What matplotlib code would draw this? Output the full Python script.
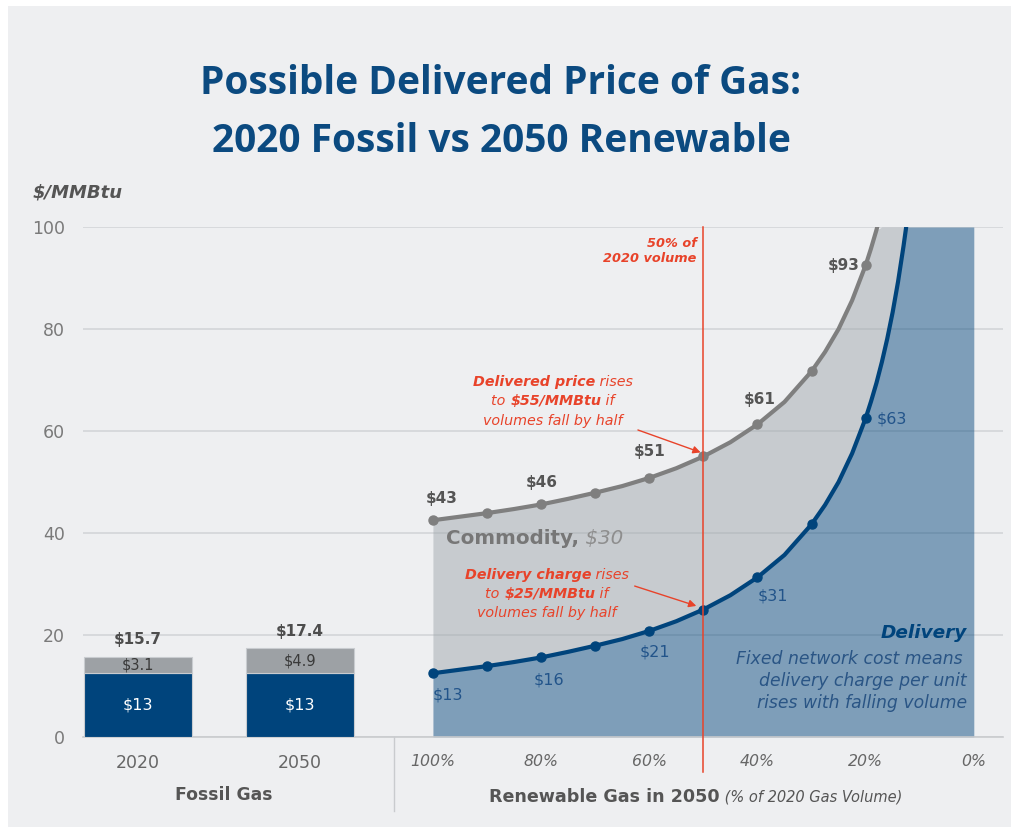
import numpy as np
import matplotlib
matplotlib.use('Agg')
import matplotlib.pyplot as plt
import matplotlib.transforms as mtransforms
from matplotlib.patches import Rectangle

# ---- data ----
bar_years = ['2020', '2050']
bar_delivery = [12.6, 12.5]
bar_commodity = [3.1, 4.9]
bar_delivery_lbl = ['$13', '$13']
bar_commodity_lbl = ['$3.1', '$4.9']
bar_total_lbl = ['$15.7', '$17.4']

vol_pts = [100, 90, 80, 70, 60, 50, 40, 30, 20]
delivery_pts = [12.5, 13.9, 15.6, 17.9, 20.8, 25.0, 31.3, 41.7, 62.5]
total_pts = [42.5, 43.9, 45.6, 47.9, 50.8, 55.0, 61.3, 71.7, 92.5]
total_lbl = ['$43', '', '$46', '', '$51', '', '$61', '', '$93']
delivery_lbl = ['$13', '', '$16', '', '$21', '', '$31', '', '$63']

# denser reading of the smooth curves
curve_vol = [100, 95, 90, 85, 80, 75, 70, 65, 60, 55, 50, 45, 40, 35, 30,
             27.5, 25, 22.5, 20, 19, 18, 17, 16, 15, 14, 13, 12.5]
curve_delivery = [12.5, 13.2, 13.9, 14.7, 15.6, 16.7, 17.9, 19.2, 20.8, 22.7, 25.0,
                  27.8, 31.3, 35.7, 41.7, 45.5, 50.0, 55.6, 62.5, 65.8, 69.4, 73.5,
                  78.1, 83.3, 89.3, 96.2, 100.0]
curve_total = [42.5, 43.2, 43.9, 44.7, 45.6, 46.7, 47.9, 49.2, 50.8, 52.7, 55.0,
               57.8, 61.3, 65.7, 71.7, 75.5, 80.0, 85.6, 92.5, 95.8, 99.4, 103.5,
               108.1, 113.3, 119.3, 126.2, 130.0]

vol_ticks = [100, 80, 60, 40, 20, 0]
y_ticks = [0, 20, 40, 60, 80, 100]

# ---- style ----
BG = '#eeeff1'
BLUE = '#00447c'
BLUE_FILL = '#0f4e82'
GRAY_LINE = '#7f7f7f'
GRAY_FILL = '#a1a8ae'
BAR_GRAY = '#9da1a5'
RED = '#e8432a'
TXT = '#555555'
BLUE_TXT = '#22548a'

YMAX = 100
BAR_X = [-54.5, -24.6]

def vx(v):
    return 100 - np.asarray(v, dtype=float)

fig = plt.figure(figsize=(10.15, 8.33), dpi=100)
fig.patch.set_facecolor('white')
fig.patches.append(Rectangle((8/1015, 6/833), 1003/1015, 821/833, transform=fig.transFigure,
                             facecolor=BG, edgecolor='none', zorder=-10))
ax = fig.add_axes([83/1015, 1 - 737/833, 920/1015, 510/833])
ax.set_facecolor(BG)
ax.patch.set_alpha(0)
ax.set_xlim(-64.7, 105.4); ax.set_ylim(0, YMAX)
for s in ['top', 'right', 'left']:
    ax.spines[s].set_visible(False)
ax.spines['bottom'].set_color('#c9cbce'); ax.spines['bottom'].set_linewidth(1.2)
ax.set_axisbelow(True)
ax.grid(axis='y', color='#d3d5d8', linewidth=1.2)
ax.set_yticks(y_ticks)
ax.tick_params(axis='y', length=0, pad=13, labelsize=12.5, labelcolor='#7a7a7a')
ax.set_xticks(list(BAR_X) + list(vx(vol_ticks)))
ax.set_xticklabels(bar_years + [f'{v}%' for v in vol_ticks])
ax.tick_params(axis='x', length=0, pad=12, labelcolor='#666666')
for i, t in enumerate(ax.get_xticklabels()):
    if i < 2:
        t.set_fontsize(12.5)
    else:
        t.set_fontsize(11.3); t.set_style('italic')

# ---- bars ----
ax.bar(BAR_X, bar_delivery, width=20, color=BLUE, edgecolor='#c9ccd0', linewidth=0.8, zorder=3)
ax.bar(BAR_X, bar_commodity, bottom=bar_delivery, width=20, color=BAR_GRAY, edgecolor='#c9ccd0', linewidth=0.8, zorder=3)
for x, d, c, dl, cl, tl in zip(BAR_X, bar_delivery, bar_commodity, bar_delivery_lbl, bar_commodity_lbl, bar_total_lbl):
    ax.text(x, d / 2, dl, ha='center', va='center', color='white', fontsize=11.5, zorder=5)
    ax.text(x, d + c / 2, cl, ha='center', va='center', color='#3a3a3a', fontsize=10.5, zorder=5)
    ax.annotate(tl, (x, d + c), xytext=(0, 17), textcoords='offset pixels', ha='center', va='center',
                color='#4d4d4d', fontsize=11, fontweight='bold', zorder=5)

# ---- renewable area ----
cx = vx(curve_vol)
d_clip = np.minimum(curve_delivery, YMAX)
t_clip = np.minimum(curve_total, YMAX)
fx = np.append(cx, vx(0))
ax.fill_between(fx, 0, np.append(d_clip, YMAX), color=BLUE_FILL, alpha=0.5, linewidth=0, zorder=2)
ax.fill_between(fx, np.append(d_clip, YMAX), np.append(t_clip, YMAX), color=GRAY_FILL, alpha=0.5, linewidth=0, zorder=2)

ax.plot(cx, curve_total, color=GRAY_LINE, lw=3, solid_capstyle='round', solid_joinstyle='round', zorder=4)
ax.plot(cx, curve_delivery, color=BLUE, lw=3, solid_capstyle='round', solid_joinstyle='round', zorder=4)
ax.plot(vx(vol_pts), total_pts, 'o', color=GRAY_LINE, ms=6.5, zorder=4)
ax.plot(vx(vol_pts), delivery_pts, 'o', color=BLUE, ms=6.5, zorder=4)

tot_off = [(9, 22), None, (1, 22), None, (0, 26), None, (2, 25), None, (-22, 0)]
del_off = [(15, -22), None, (8, -23), None, (6, -21), None, (15, -19), None, (26, -1)]
for v, t, d, tl, dl, to, do in zip(vol_pts, total_pts, delivery_pts, total_lbl, delivery_lbl, tot_off, del_off):
    if tl:
        ax.annotate(tl, (vx(v), t), xytext=to, textcoords='offset pixels', ha='center', va='center',
                    color=TXT, fontsize=11, fontweight='bold', zorder=6)
    if dl:
        ax.annotate(dl, (vx(v), d), xytext=do, textcoords='offset pixels', ha='center', va='center',
                    color=BLUE_TXT, fontsize=11.5, zorder=6)

# 50% marker line
ax.plot([vx(50), vx(50)], [-6.9, YMAX], color=RED, lw=1.1, clip_on=False, zorder=5)
ax.text(48.8, 95.3, '50% of\n2020 volume', ha='right', va='center', multialignment='right',
        color=RED, fontsize=9.3, fontweight='bold', style='italic', linespacing=1.25)

# divider under axis
ax.plot([-7.2, -7.2], [0, -14.5], color='#c9cbce', lw=1, clip_on=False)

fig.canvas.draw()
renderer = fig.canvas.get_renderer()


def rich(x, y, parts, ha='center', **common):
    texts = [ax.text(x, y, s, ha='left', va='center', clip_on=False, **common, **kw) for s, kw in parts]
    widths = [t.get_window_extent(renderer=renderer).width for t in texts]
    off = {'center': -sum(widths) / 2, 'right': -sum(widths), 'left': 0}[ha]
    for t, w in zip(texts, widths):
        t.set_transform(mtransforms.offset_copy(ax.transData, fig=fig, x=off, y=0, units='dots'))
        off += w

BI = dict(fontweight='bold', style='italic')
IT = dict(style='italic')
rc = dict(color=RED, fontsize=10.3, zorder=7)
rich(22.2, 69.6, [('Delivered price', BI), (' rises', IT)], **rc)
rich(22.2, 65.9, [('to ', IT), ('$55/MMBtu', BI), (' if', IT)], **rc)
rich(22.2, 62.0, [('volumes fall by half', IT)], **rc)
rich(21.1, 31.8, [('Delivery charge', BI), (' rises', IT)], **rc)
rich(21.1, 28.0, [('to ', IT), ('$25/MMBtu', BI), (' if', IT)], **rc)
rich(21.1, 24.3, [('volumes fall by half', IT)], **rc)
arrow = dict(arrowstyle='-|>', color=RED, lw=1, mutation_scale=11, shrinkA=0, shrinkB=0)
ax.annotate('', xy=(49.5, 55.8), xytext=(37.9, 60.2), arrowprops=arrow, zorder=7)
ax.annotate('', xy=(48.7, 25.7), xytext=(37.3, 29.6), arrowprops=arrow, zorder=7)

rich(2.4, 39.0, [('Commodity,', dict(fontweight='bold', color='#777777')),
                 (' $30', dict(style='italic', color='#8e8e8e'))], ha='left', fontsize=14.3, zorder=7)

ax.text(98.7, 20.4, 'Delivery', ha='right', va='center', color=BLUE, fontsize=13.3, **BI, zorder=7)
for y, s in zip([15.3, 11.0, 6.7], ['Fixed network cost means', 'delivery charge per unit', 'rises with falling volume']):
    ax.text(98.7 if y < 15 else 98.0, y, s, ha='right', va='center', color='#2a5585', fontsize=12.4, style='italic', zorder=7)

# axis group titles
ax.text(-38.6, -11.4, 'Fossil Gas', ha='center', va='center', color=TXT, fontsize=12.4, fontweight='bold', clip_on=False)
rich(10.35, -11.8, [('Renewable Gas in 2050', dict(fontweight='bold', fontsize=12.6)),
                    (' (% of 2020 Gas Volume)', dict(style='italic', fontsize=10.5))], ha='left', color=TXT)

# unit label and title
fig.text(33/1015, 1 - 192/833, '$/MMBtu', ha='left', va='center', color=TXT, fontsize=13, fontweight='bold', style='italic')
fig.text(501/1015, 1 - 94/833, 'Possible Delivered Price of Gas:', ha='center', va='baseline',
         color='#0b4a80', fontsize=28, fontweight='bold', family='Open Sans')
fig.text(501/1015, 1 - 152/833, '2020 Fossil vs 2050 Renewable', ha='center', va='baseline',
         color='#0b4a80', fontsize=28, fontweight='bold', family='Open Sans')

fig.savefig('out.png', dpi=100, facecolor='white')
